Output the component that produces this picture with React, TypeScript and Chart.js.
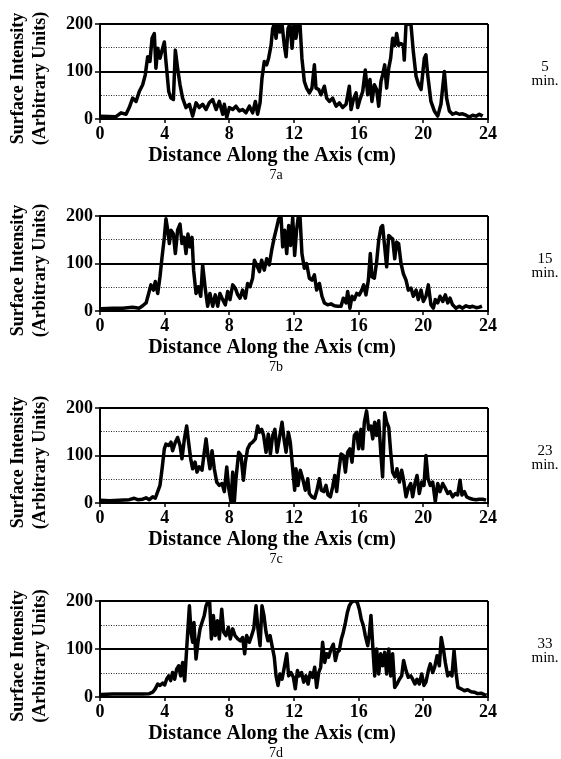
import React, { useEffect, useRef } from "react";
import { Chart, registerables } from "chart.js";

Chart.register(...registerables);

// ---- data ----
const xTickValues = [0, 4, 8, 12, 16, 20, 24];
const yTickLabels = [0, 100, 200];
const yTitle = ["Surface Intensity", "(Arbitrary Units)"];
const xTitle = "Distance Along the Axis (cm)";
const captions = ["7a", "7b", "7c", "7d"];
const timeLabels = ["5", "15", "23", "33"];
const timeUnit = "min.";

const distA = [0.06, 0.99, 1.3, 1.61, 1.81, 2.02, 2.23, 2.43, 2.64, 2.8, 2.95, 3.09, 3.22, 3.36, 3.46, 3.57, 3.71, 3.84, 3.98, 4.08, 4.25, 4.39, 4.54, 4.66, 4.8, 4.95, 5.11, 5.32, 5.53, 5.73, 5.94, 6.14, 6.35, 6.56, 6.76, 6.97, 7.18, 7.38, 7.59, 7.69, 7.84, 8.0, 8.21, 8.41, 8.62, 8.82, 9.03, 9.24, 9.44, 9.61, 9.75, 9.9, 10.02, 10.16, 10.31, 10.43, 10.58, 10.68, 10.78, 10.89, 10.99, 11.13, 11.26, 11.4, 11.51, 11.63, 11.75, 11.88, 12.0, 12.12, 12.25, 12.37, 12.49, 12.64, 12.78, 12.95, 13.11, 13.26, 13.36, 13.53, 13.67, 13.88, 14.02, 14.19, 14.39, 14.6, 14.8, 15.01, 15.22, 15.42, 15.53, 15.67, 15.84, 15.94, 16.08, 16.25, 16.41, 16.56, 16.7, 16.82, 16.97, 17.11, 17.24, 17.38, 17.48, 17.61, 17.73, 17.86, 17.98, 18.1, 18.23, 18.35, 18.47, 18.62, 18.76, 18.82, 18.93, 19.09, 19.24, 19.38, 19.55, 19.71, 19.86, 20.06, 20.16, 20.27, 20.47, 20.68, 20.89, 21.09, 21.3, 21.44, 21.61, 21.81, 22.02, 22.23, 22.43, 22.64, 22.85, 23.05, 23.26, 23.46, 23.67];
const intensityA = [6, 5, 13, 10, 24, 44, 37, 58, 72, 93, 131, 121, 170, 180, 107, 149, 128, 145, 162, 121, 58, 44, 41, 145, 107, 72, 44, 24, 31, 6, 34, 24, 31, 20, 34, 41, 20, 37, 10, 31, 3, 24, 20, 27, 17, 20, 13, 27, 13, 37, 10, 34, 86, 121, 114, 128, 155, 190, 200, 170, 200, 183, 200, 155, 131, 190, 200, 149, 200, 170, 200, 200, 128, 79, 65, 55, 65, 114, 65, 62, 51, 69, 44, 37, 44, 27, 34, 24, 31, 69, 20, 41, 55, 24, 41, 58, 103, 51, 83, 37, 72, 62, 27, 79, 93, 114, 65, 107, 128, 170, 155, 180, 155, 159, 155, 124, 200, 200, 197, 142, 90, 72, 62, 128, 135, 93, 37, 17, 6, 31, 100, 44, 17, 10, 13, 10, 11, 8, 4, 8, 6, 10, 6];

const distB = [0.06, 0.78, 1.4, 2.02, 2.43, 2.64, 2.85, 3.01, 3.15, 3.3, 3.42, 3.57, 3.71, 3.84, 3.98, 4.08, 4.19, 4.29, 4.39, 4.54, 4.66, 4.8, 4.95, 5.07, 5.2, 5.32, 5.44, 5.57, 5.69, 5.79, 5.94, 6.08, 6.23, 6.35, 6.52, 6.66, 6.8, 6.97, 7.13, 7.28, 7.42, 7.59, 7.75, 7.9, 8.04, 8.21, 8.37, 8.52, 8.66, 8.82, 8.99, 9.13, 9.28, 9.44, 9.55, 9.69, 9.86, 10.0, 10.16, 10.31, 10.47, 10.62, 10.78, 10.93, 11.05, 11.2, 11.3, 11.42, 11.55, 11.67, 11.79, 11.92, 12.04, 12.16, 12.27, 12.37, 12.49, 12.64, 12.78, 12.95, 13.11, 13.26, 13.4, 13.57, 13.73, 13.88, 14.08, 14.29, 14.49, 14.7, 14.91, 15.05, 15.22, 15.32, 15.46, 15.59, 15.73, 15.88, 16.04, 16.19, 16.31, 16.45, 16.6, 16.72, 16.82, 16.97, 17.11, 17.24, 17.38, 17.48, 17.61, 17.73, 17.86, 17.98, 18.1, 18.23, 18.35, 18.47, 18.62, 18.76, 18.93, 19.07, 19.24, 19.38, 19.55, 19.69, 19.86, 20.0, 20.16, 20.31, 20.47, 20.62, 20.74, 20.89, 21.03, 21.2, 21.36, 21.51, 21.65, 21.81, 22.02, 22.23, 22.43, 22.64, 22.85, 23.05, 23.26, 23.46, 23.63];
const intensityB = [5, 6, 6, 8, 6, 11, 17, 37, 55, 44, 62, 37, 72, 114, 155, 194, 170, 142, 170, 162, 121, 170, 183, 142, 155, 121, 162, 135, 155, 86, 37, 51, 31, 97, 44, 10, 37, 10, 34, 10, 37, 24, 13, 41, 24, 55, 48, 34, 27, 44, 27, 58, 51, 69, 107, 97, 83, 107, 86, 110, 97, 128, 155, 176, 194, 197, 135, 170, 121, 180, 138, 197, 117, 170, 200, 200, 121, 90, 100, 69, 65, 76, 44, 58, 31, 17, 13, 15, 11, 10, 10, 27, 17, 41, 6, 31, 24, 37, 34, 44, 55, 34, 65, 121, 72, 69, 103, 149, 176, 180, 135, 93, 159, 155, 152, 110, 145, 142, 100, 79, 65, 44, 48, 31, 44, 24, 44, 20, 31, 55, 13, 6, 24, 17, 31, 20, 34, 17, 27, 13, 6, 10, 6, 11, 8, 10, 7, 8, 10];

const distC = [0.06, 0.58, 1.2, 1.81, 2.12, 2.33, 2.64, 2.85, 3.05, 3.26, 3.42, 3.57, 3.71, 3.84, 3.98, 4.08, 4.25, 4.39, 4.49, 4.66, 4.8, 4.95, 5.07, 5.22, 5.36, 5.48, 5.61, 5.73, 5.88, 6.0, 6.14, 6.31, 6.45, 6.56, 6.68, 6.8, 6.93, 7.07, 7.22, 7.38, 7.55, 7.69, 7.84, 7.96, 8.1, 8.21, 8.31, 8.41, 8.58, 8.72, 8.87, 8.99, 9.13, 9.28, 9.44, 9.61, 9.75, 9.86, 10.0, 10.12, 10.27, 10.41, 10.54, 10.68, 10.82, 10.95, 11.09, 11.26, 11.38, 11.51, 11.65, 11.77, 11.92, 12.04, 12.12, 12.25, 12.39, 12.54, 12.7, 12.85, 12.95, 13.11, 13.28, 13.42, 13.57, 13.69, 13.84, 13.98, 14.1, 14.25, 14.39, 14.52, 14.64, 14.76, 14.91, 15.05, 15.18, 15.32, 15.46, 15.59, 15.73, 15.88, 16.0, 16.14, 16.25, 16.35, 16.49, 16.62, 16.76, 16.87, 16.99, 17.11, 17.24, 17.38, 17.48, 17.61, 17.73, 17.86, 17.98, 18.1, 18.25, 18.37, 18.52, 18.66, 18.78, 18.93, 19.07, 19.22, 19.34, 19.48, 19.61, 19.75, 19.9, 20.04, 20.16, 20.29, 20.43, 20.58, 20.74, 20.89, 21.03, 21.2, 21.36, 21.51, 21.65, 21.81, 21.98, 22.12, 22.27, 22.39, 22.54, 22.68, 22.85, 23.05, 23.26, 23.46, 23.67, 23.88];
const intensityC = [6, 5, 6, 7, 10, 7, 8, 11, 7, 13, 10, 24, 37, 72, 114, 124, 121, 128, 110, 128, 138, 121, 93, 135, 162, 128, 93, 72, 86, 65, 76, 69, 107, 135, 100, 72, 110, 72, 44, 37, 41, 24, 76, 31, 3, 65, 3, 51, 107, 100, 48, 86, 114, 124, 128, 135, 162, 149, 155, 142, 107, 145, 103, 142, 155, 107, 135, 170, 135, 107, 149, 128, 72, 27, 72, 37, 69, 51, 27, 51, 20, 13, 10, 27, 51, 27, 24, 37, 17, 13, 34, 58, 24, 65, 103, 100, 65, 107, 114, 86, 142, 149, 114, 155, 114, 170, 194, 155, 162, 135, 170, 142, 173, 100, 55, 190, 170, 159, 107, 65, 55, 72, 44, 69, 48, 13, 31, 41, 13, 41, 58, 20, 44, 37, 100, 51, 37, 44, 3, 41, 24, 41, 31, 20, 24, 13, 20, 17, 48, 17, 24, 13, 10, 8, 7, 8, 8, 6];

const distD = [0.06, 0.78, 1.4, 2.02, 2.64, 3.05, 3.26, 3.42, 3.57, 3.71, 3.88, 4.0, 4.12, 4.25, 4.37, 4.49, 4.62, 4.74, 4.87, 4.99, 5.11, 5.24, 5.36, 5.44, 5.53, 5.63, 5.73, 5.81, 5.94, 6.06, 6.19, 6.31, 6.45, 6.56, 6.68, 6.78, 6.89, 7.01, 7.13, 7.26, 7.38, 7.53, 7.65, 7.79, 7.94, 8.06, 8.21, 8.35, 8.52, 8.68, 8.82, 8.95, 9.07, 9.24, 9.38, 9.51, 9.65, 9.77, 9.9, 10.02, 10.14, 10.27, 10.39, 10.52, 10.64, 10.78, 10.89, 11.01, 11.13, 11.26, 11.4, 11.55, 11.67, 11.81, 11.96, 12.08, 12.21, 12.33, 12.47, 12.6, 12.74, 12.87, 13.01, 13.15, 13.28, 13.4, 13.53, 13.65, 13.77, 13.9, 14.02, 14.14, 14.29, 14.43, 14.56, 14.68, 14.8, 14.93, 15.05, 15.18, 15.3, 15.42, 15.55, 15.67, 15.79, 15.92, 16.04, 16.16, 16.29, 16.41, 16.56, 16.66, 16.76, 16.87, 16.99, 17.11, 17.24, 17.36, 17.48, 17.61, 17.73, 17.86, 17.98, 18.1, 18.23, 18.37, 18.52, 18.66, 18.78, 18.93, 19.07, 19.22, 19.34, 19.48, 19.61, 19.75, 19.9, 20.04, 20.16, 20.31, 20.43, 20.58, 20.7, 20.85, 20.99, 21.11, 21.24, 21.36, 21.51, 21.65, 21.77, 21.9, 22.02, 22.14, 22.33, 22.54, 22.74, 22.95, 23.15, 23.36, 23.57, 23.77, 23.92];
const intensityD = [5, 6, 6, 6, 6, 7, 10, 17, 27, 24, 29, 25, 37, 44, 34, 51, 37, 58, 65, 44, 72, 34, 100, 142, 190, 135, 114, 155, 79, 114, 142, 155, 170, 190, 200, 200, 121, 170, 128, 159, 121, 183, 135, 128, 145, 121, 142, 128, 121, 117, 124, 90, 128, 114, 128, 142, 190, 142, 107, 190, 170, 135, 117, 128, 107, 83, 44, 24, 48, 37, 62, 90, 44, 51, 41, 17, 55, 44, 51, 31, 44, 27, 51, 41, 62, 20, 51, 62, 114, 72, 90, 83, 100, 110, 76, 93, 97, 121, 135, 155, 176, 190, 197, 200, 200, 197, 183, 162, 149, 128, 107, 131, 170, 107, 44, 100, 48, 90, 65, 93, 48, 100, 44, 90, 20, 27, 37, 44, 76, 55, 41, 44, 37, 27, 37, 27, 48, 24, 31, 55, 69, 51, 62, 86, 65, 124, 100, 72, 44, 51, 44, 97, 51, 20, 17, 13, 15, 11, 10, 7, 8, 5, 4];

const panelDists = [distA, distB, distC, distD];
const panelIntensities = [intensityA, intensityB, intensityC, intensityD];

// ---- layout (not data) ----
const FONT = "'Liberation Serif', 'Times New Roman', serif";
const CANVAS_W = 561;
const PANEL_TOPS = [0, 192, 384, 577];
const CANVAS_HS = [192, 192, 193, 182];
const PLOT_TOP = 24;
const PLOT_HS = [95, 95, 95, 96];
const PLOT_LEFT = 100;
const PLOT_RIGHT = 488;

const annotatePlugin = {
  id: "annotate",
  afterDraw(chart: any, _args: any, opts: any) {
    const { ctx, chartArea } = chart;
    const midY = (chartArea.top + chartArea.bottom) / 2;
    ctx.save();
    ctx.fillStyle = "#000";
    ctx.font = `bold 18px ${FONT}`;
    ctx.textAlign = "center";
    ctx.textBaseline = "middle";
    const xs = [18, 40];
    yTitle.forEach((line, i) => {
      ctx.save();
      ctx.translate(xs[i], midY + 7);
      ctx.rotate(-Math.PI / 2);
      ctx.fillText(line, 0, 0);
      ctx.restore();
    });
    ctx.textBaseline = "alphabetic";
    ctx.font = `bold 20px ${FONT}`;
    ctx.fillText(xTitle, 272, chartArea.bottom + 42);
    ctx.font = `14px ${FONT}`;
    ctx.fillText(opts.caption, 276, chartArea.bottom + 60);
    ctx.font = `15px ${FONT}`;
    ctx.fillText(opts.time, 545, chartArea.top + 46.5);
    ctx.fillText(timeUnit, 545, chartArea.top + 61);
    ctx.restore();
  },
};

function Panel({ index }: { index: number }) {
  const ref = useRef<HTMLCanvasElement | null>(null);
  const canvasH = CANVAS_HS[index];
  const plotH = PLOT_HS[index];

  useEffect(() => {
    if (!ref.current) return;
    const dist = panelDists[index];
    const vals = panelIntensities[index];
    const chart = new Chart(ref.current, {
      type: "line",
      data: {
        datasets: [
          {
            data: dist.map((x, i) => ({ x, y: vals[i] })),
            borderColor: "#000",
            borderWidth: 3.5,
            pointRadius: 0,
            tension: 0,
            borderJoinStyle: "round",
            fill: false,
          },
        ],
      },
      options: {
        animation: false,
        responsive: false,
        events: [],
        layout: {
          padding: { top: PLOT_TOP, left: 0, right: CANVAS_W - PLOT_RIGHT, bottom: 0 },
        },
        plugins: {
          legend: { display: false },
          tooltip: { enabled: false },
          annotate: { caption: captions[index], time: timeLabels[index] },
        } as any,
        scales: {
          x: {
            type: "linear",
            min: 0,
            max: 24,
            afterBuildTicks: (scale: any) => {
              scale.ticks = xTickValues.map((v) => ({ value: v }));
            },
            afterFit: (scale: any) => {
              scale.height = canvasH - PLOT_TOP - plotH;
              scale.paddingLeft = 0;
              scale.paddingRight = 0;
            },
            ticks: {
              color: "#000",
              font: { family: FONT, size: 18, weight: "bold" },
              padding: 1,
              maxRotation: 0,
              autoSkip: false,
            },
            grid: {
              color: (c: any) => (c.tick && c.tick.value === 24 ? "#000" : "rgba(0,0,0,0)"),
              lineWidth: 2,
              drawTicks: true,
              tickLength: 4,
              tickColor: "#000",
              tickWidth: 1.5,
            },
            border: { display: true, color: "#000", width: 2 },
          },
          y: {
            min: 0,
            max: 200,
            afterBuildTicks: (scale: any) => {
              scale.ticks = [0, 50, 100, 150, 200].map((v) => ({ value: v }));
            },
            afterFit: (scale: any) => {
              scale.width = PLOT_LEFT;
            },
            ticks: {
              color: "#000",
              font: { family: FONT, size: 18, weight: "bold" },
              padding: 2,
              autoSkip: false,
              callback: (v: any) => (yTickLabels.includes(Number(v)) ? String(v) : ""),
            },
            grid: {
              color: (c: any) => {
                const v = c.tick ? c.tick.value : 0;
                return v === 50 || v === 150 ? "#222" : "#000";
              },
              lineWidth: (c: any) => {
                const v = c.tick ? c.tick.value : 0;
                return v === 50 || v === 150 ? 1 : 2;
              },
              drawTicks: true,
              tickLength: 5,
              tickColor: (c: any) => {
                const v = c.tick ? c.tick.value : 0;
                return v === 50 || v === 150 ? "rgba(0,0,0,0)" : "#000";
              },
              tickWidth: 1.5,
            },
            border: {
              display: true,
              color: "#000",
              width: 2,
              dash: (c: any) => {
                const v = c.tick ? c.tick.value : -1;
                return v === 50 || v === 150 ? [1, 1.5] : [];
              },
            },
          },
        },
      } as any,
      plugins: [annotatePlugin],
    });
    return () => chart.destroy();
  }, [index]);

  return (
    <canvas
      ref={ref}
      width={CANVAS_W}
      height={canvasH}
      style={{
        position: "absolute",
        left: 0,
        top: PANEL_TOPS[index],
        width: CANVAS_W,
        height: canvasH,
        display: "block",
      }}
    />
  );
}

export default function App() {
  return (
    <div
      style={{
        position: "absolute",
        left: 0,
        top: 0,
        width: CANVAS_W,
        height: 759,
        background: "#fff",
        overflow: "hidden",
      }}
    >
      {[0, 1, 2, 3].map((i) => (
        <Panel key={i} index={i} />
      ))}
    </div>
  );
}
